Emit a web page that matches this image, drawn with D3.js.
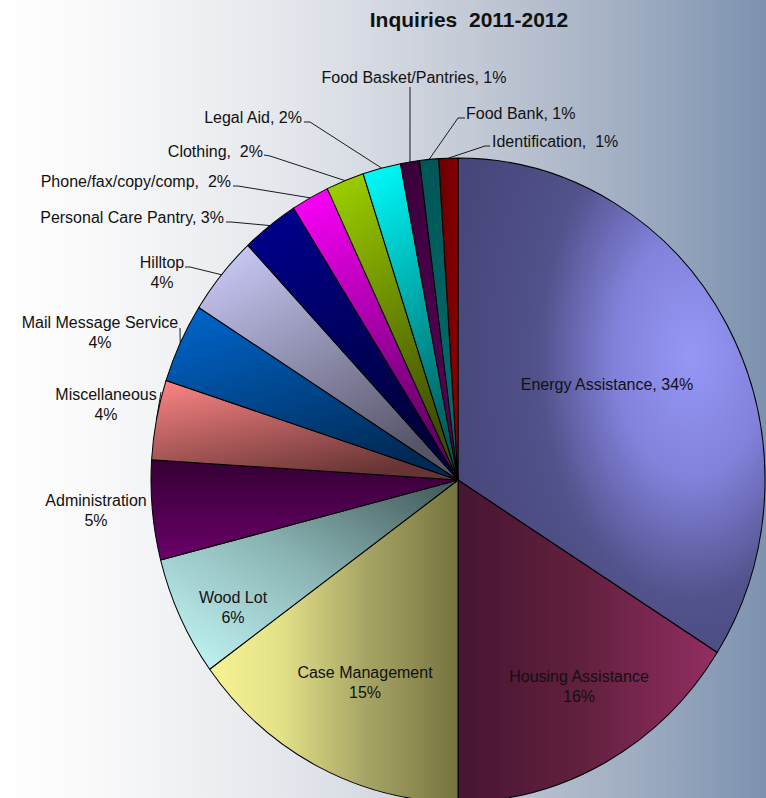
<!DOCTYPE html>
<html><head><meta charset="utf-8">
<script src="https://cdn.jsdelivr.net/npm/d3@7"></script>
<style>
html,body{margin:0;padding:0;background:#fff}
svg{display:block}
text{font-family:"Liberation Sans",Arial,sans-serif;fill:#111}
</style>
</head><body>
<svg id="chart" width="766" height="798"></svg>
<script>
// ---------- DATA ----------
const categories = ["Energy Assistance","Housing Assistance","Case Management","Wood Lot","Administration","Miscellaneous","Mail Message Service","Hilltop","Personal Care Pantry","Phone/fax/copy/comp","Clothing","Legal Aid","Food Basket/Pantries","Food Bank","Identification"];
const values = [34,16,15,6,5,4,4,4,3,2,2,2,1,1,1];
const title = "Inquiries  2011-2012";

// ---------- STYLE / LAYOUT ----------
const W = 766, H = 798;
const cx = 458, cy = 480, rx = 307, ry = 322;

// gradient per slice: linear (x1,y1)->(x2,y2) in bbox units, or radial
const sliceStyles = [
  {type:"radial", cx:0.76, cy:0.4, r:0.82, stops:[[0,"#9696f6"],[0.3,"#8282dc"],[0.6,"#52528c"],[1,"#46467a"]]},
  {v:[0,0.5,1,0.5], stops:[[0,"#461530"],[0.5,"#63213f"],[1,"#932e63"]]},
  {v:[0,0.5,1,0.5], stops:[[0,"#f5f393"],[0.28,"#e4e288"],[0.62,"#a8a666"],[1,"#76743f"]]},
  {v:[1,0,0,1], stops:[[0,"#3e5454"],[0.5,"#8cb6b6"],[1,"#c8fcfc"]]},
  {v:[0,0,0,1], stops:[[0,"#350035"],[1,"#6a006a"]]},
  {v:[0,0,0.6,1], stops:[[0,"#ff8686"],[1,"#663434"]]},
  {v:[0,0,0.6,1], stops:[[0,"#0068d0"],[1,"#002a55"]]},
  {v:[0,0,0.6,1], stops:[[0,"#d0d0ff"],[1,"#555568"]]},
  {v:[0,0,0.4,1], stops:[[0,"#000092"],[1,"#00003a"]]},
  {v:[0,0,0.3,1], stops:[[0,"#ff00ff"],[1,"#640064"]]},
  {v:[0,0,0.3,1], stops:[[0,"#a0d400"],[1,"#3e4c00"]]},
  {v:[0,0,0.2,1], stops:[[0,"#00ffff"],[1,"#005a5a"]]},
  {v:[0,0,0,1], stops:[[0,"#3a003a"],[1,"#5e005e"]]},
  {v:[0,0,0,1], stops:[[0,"#005656"],[1,"#007272"]]},
  {v:[0,0.5,1,0.5], stops:[[0,"#660000"],[1,"#880000"]]}
];

// label layout: x, y (first baseline), anchor, two-line?, separator, leader (label-side points)
const labelLayout = [
  {x:607, y:390, a:"middle", two:false, sep:" "},
  {x:579, y:682, a:"middle", two:true},
  {x:365, y:678, a:"middle", two:true},
  {x:233, y:603, a:"middle", two:true},
  {x:96,  y:506, a:"middle", two:true},
  {x:106, y:400, a:"middle", two:true, leader:[[161,392]]},
  {x:100, y:328, a:"middle", two:true, leader:[[180,328]]},
  {x:162, y:268, a:"middle", two:true, leader:[[185,267],[190,267]]},
  {x:224, y:223, a:"end", two:false, sep:" ", leader:[[226,222],[231,222]]},
  {x:231, y:187, a:"end", two:false, sep:"  ", leader:[[233,186],[238,186]]},
  {x:263, y:157, a:"end", two:false, sep:"  ", leader:[[264,155],[270,156]]},
  {x:302, y:123, a:"end", two:false, sep:" ", leader:[[304,122],[310,122]]},
  {x:414, y:83,  a:"middle", two:false, sep:" ", leader:[[410,87]]},
  {x:466, y:119, a:"start", two:false, sep:" ", leader:[[465,118],[458,118]]},
  {x:492, y:147, a:"start", two:false, sep:"  ", leader:[[490,146],[485,146]]}
];

// ---------- DRAW ----------
const svg = d3.select("#chart");
const defs = svg.append("defs");

const bg = defs.append("linearGradient").attr("id","bg").attr("x1",0).attr("y1",0).attr("x2",1).attr("y2",0);
[[0,"#ffffff"],[0.13,"#f9f9fa"],[0.2,"#f3f4f6"],[0.39,"#e2e5eb"],[0.6,"#c6ccd7"],[0.78,"#a8b4c6"],[1,"#7c92af"]]
  .forEach(s=>bg.append("stop").attr("offset",s[0]).attr("stop-color",s[1]));
svg.append("rect").attr("width",W).attr("height",H).attr("fill","url(#bg)");

sliceStyles.forEach((s,i)=>{
  let g;
  if (s.type==="radial") {
    g = defs.append("radialGradient").attr("id","g"+i).attr("cx",s.cx).attr("cy",s.cy).attr("r",s.r);
  } else {
    g = defs.append("linearGradient").attr("id","g"+i)
      .attr("x1",s.v[0]).attr("y1",s.v[1]).attr("x2",s.v[2]).attr("y2",s.v[3]);
  }
  s.stops.forEach(st=>g.append("stop").attr("offset",st[0]).attr("stop-color",st[1]));
});

const pie = d3.pie().sort(null).value(d=>d)(values);
const arc = d3.arc().innerRadius(0).outerRadius(ry);
const edgePoint = a => [cx + rx*Math.sin(a), cy - ry*Math.cos(a)];

// leader lines (drawn beneath the pie)
const leaders = svg.append("g").attr("fill","none").attr("stroke","#1a1a1a").attr("stroke-width",1);
pie.forEach((p,i)=>{
  const L = labelLayout[i];
  if (!L.leader) return;
  const mid = (p.startAngle+p.endAngle)/2;
  const pts = L.leader.concat([edgePoint(mid)]);
  leaders.append("path").attr("d", d3.line()(pts));
});

const pg = svg.append("g").attr("transform",`translate(${cx},${cy}) scale(${rx/ry},1)`);
pg.selectAll("path").data(pie).join("path")
  .attr("d",arc)
  .attr("fill",(d,i)=>`url(#g${i})`)
  .attr("stroke","#000").attr("stroke-width",1.05).attr("stroke-linejoin","round");

// labels
const lab = svg.append("g").attr("font-size",16);
pie.forEach((p,i)=>{
  const L = labelLayout[i];
  const t = lab.append("text").attr("x",L.x).attr("y",L.y).attr("text-anchor",L.a).style("white-space","pre");
  if (L.two) {
    t.append("tspan").attr("x",L.x).text(categories[i]);
    t.append("tspan").attr("x",L.x).attr("dy",19.5).text(values[i]+"%");
  } else {
    t.text(categories[i]+","+L.sep+values[i]+"%");
  }
});

svg.append("text").attr("x",469).attr("y",27).attr("text-anchor","middle")
  .attr("font-size",21).attr("font-weight","bold").style("white-space","pre").text(title);
</script>
</body></html>
